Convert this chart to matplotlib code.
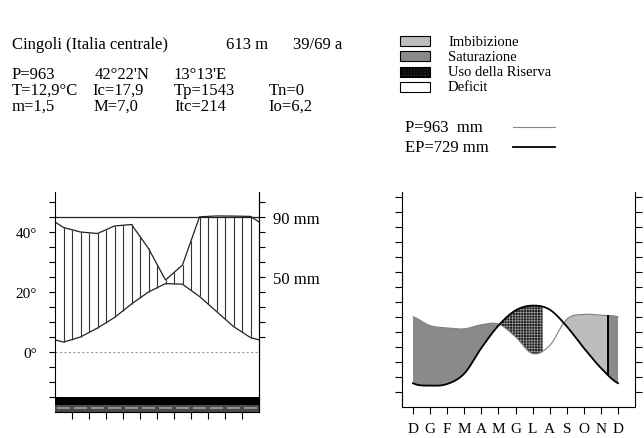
import matplotlib
matplotlib.use('Agg')
import matplotlib.pyplot as plt
import numpy as np
from matplotlib.patches import Rectangle
from matplotlib.lines import Line2D

plt.rcParams['font.family'] = ['Liberation Serif', 'DejaVu Serif']
plt.rcParams['hatch.linewidth'] = 0.5

# monthly data, January .. December
months = ['G', 'F', 'M', 'A', 'M', 'G', 'L', 'A', 'S', 'O', 'N', 'D']
temp = [3.3, 5.0, 8.0, 11.5, 16.0, 20.0, 22.8, 22.6, 18.5, 13.5, 8.5, 4.8]
precip = [83, 80, 79, 84, 85, 69, 48, 58, 91, 97, 96, 94]
evapo = [8, 10, 23, 55, 83, 102, 108, 103, 82, 55, 30, 11]

# water balance: month positions (0 = December)
reserve_empty = 7.6
reserve_full = 11.4

header = [
    ('Cingoli (Italia centrale)', 12, 45), ('613 m', 226, 45), ('39/69 a', 293, 45),
    ('P=963', 12, 75), ("42°22'N", 95, 75), ("13°13'E", 173, 75),
    ('T=12,9°C', 12, 91), ('Ic=17,9', 92, 91), ('Tp=1543', 174, 91), ('Tn=0', 269, 91),
    ('m=1,5', 12, 107), ('M=7,0', 94, 107), ('Itc=214', 174, 107), ('Io=6,2', 268, 107),
]
legend_items = ['Imbibizione', 'Saturazione', 'Uso della Riserva', 'Deficit']

C_IMB = '#bdbdbd'
C_SAT = '#8a8a8a'
C_USO = '#1c1c1c'

W, H = 644, 439
fig = plt.figure(figsize=(W / 100, H / 100), dpi=100)


def fx(x):
    return x / W


def fy(y):
    return 1 - y / H


def smooth(values, xs):
    """Periodic Catmull-Rom curve; x=0 is December, x=12 December again."""
    v = np.asarray(values, float)
    seq = np.concatenate([v[10:], v, v[:1]])   # Nov, Dec, Jan..Dec, Jan
    i = np.clip(np.floor(xs).astype(int), 0, 11)
    t = xs - i
    p0, p1, p2, p3 = seq[i], seq[i + 1], seq[i + 2], seq[i + 3]
    return 0.5 * (2 * p1 + (-p0 + p2) * t
                  + (2 * p0 - 5 * p1 + 4 * p2 - p3) * t ** 2
                  + (-p0 + 3 * p1 - 3 * p2 + p3) * t ** 3)


# ---------------- header text ----------------
for txt, x, y in header:
    fig.text(fx(x), fy(y), txt, fontsize=12, va='center', ha='left')

# ---------------- legend ----------------
for k, name in enumerate(legend_items):
    y0 = 37 + 15.3 * k
    face = [C_IMB, C_SAT, C_USO, 'white'][k]
    r = Rectangle((fx(400), fy(y0 + 10)), 30 / W, 10 / H, transform=fig.transFigure,
                  facecolor=face, edgecolor='black', lw=0.8,
                  hatch='++++++' if k == 2 else None)
    fig.add_artist(r)
    fig.text(fx(448), fy(y0 + 5), name, fontsize=10.5, va='center', ha='left')

fig.text(fx(405), fy(128), 'P=963  mm', fontsize=12, va='center')
fig.text(fx(405), fy(148), 'EP=729 mm', fontsize=12, va='center')
fig.add_artist(Line2D([fx(513), fx(555)], [fy(128), fy(128)], transform=fig.transFigure,
                      color='#888888', lw=0.8))
fig.add_artist(Line2D([fx(513), fx(555)], [fy(148), fy(148)], transform=fig.transFigure,
                      color='black', lw=1.3))

# ---------------- ombrothermic diagram ----------------
ax = fig.add_axes([fx(55), fy(413), 204 / W, 220 / H])
ax.set_xlim(0, 12)
ax.set_ylim(-20, 53.33)

# months at interval midpoints, wrapped one month on each side
xm = np.arange(-0.5, 13, 1.0)
t_ext = np.array([temp[-1]] + temp + [temp[0]])
p_arr = np.array([precip[-1]] + precip + [precip[0]], float)
p_plot = np.where(p_arr <= 90, p_arr, 90 + (p_arr - 90) / 10) / 2

ax.plot(xm, t_ext, color='#222222', lw=0.9)
ax.plot(xm, p_plot, color='#222222', lw=0.9)
xh = np.arange(0.5, 12, 0.5)
ax.vlines(xh, np.interp(xh, xm, t_ext), np.interp(xh, xm, p_plot),
          color='#333333', lw=0.8)
ax.axhline(45, color='#222222', lw=0.9)
ax.axhline(0, color='#999999', lw=0.8, ls=(0, (2, 2)))

ax.add_patch(Rectangle((0, -17.6), 12, 2.6, color='black', lw=0))
ax.add_patch(Rectangle((0, -20), 12, 2.4, color='#4a4a4a', lw=0))
for k in range(12):
    ax.plot([k + 0.12, k + 0.88], [-18.7, -18.7], color='#a0a0a0', lw=1.2,
            solid_capstyle='butt')

ax.spines['top'].set_visible(False)
ax.spines['left'].set_bounds(-15, 53.33)
ax.set_xticks(np.arange(1, 12))
ax.set_xticklabels([])
ax.tick_params(axis='x', direction='out', length=5, width=0.8)
yt = np.arange(-15, 51, 5)
ax.set_yticks(yt)
ax.set_yticklabels([f'{v}°' if v in (0, 20, 40) else '' for v in yt], fontsize=11)
ax.tick_params(axis='y', direction='out', length=4, width=0.8, pad=9)

axr = ax.twinx()
axr.set_ylim(ax.get_ylim())
for s in ['top', 'left', 'bottom']:
    axr.spines[s].set_visible(False)
yr = np.arange(5, 51, 5)
axr.set_yticks(yr)
axr.set_yticklabels([f'{2 * v} mm' if v in (25, 45) else '' for v in yr], fontsize=12)
axr.tick_params(axis='y', direction='out', length=4, width=0.8, pad=6)

# ---------------- water balance ----------------
bx = fig.add_axes([fx(402), fy(408), 233 / W, 215 / H])
bx.set_xlim(-0.644, 12.995)
bx.set_ylim(-18.75, 250)
xs = np.linspace(0, 12, 2401)
ps = smooth(precip, xs)
es = smooth(evapo, xs)
wet = ps >= es

bx.fill_between(xs, es, ps, where=wet & ((xs <= reserve_empty) | (xs >= reserve_full)),
                facecolor=C_SAT, lw=0, interpolate=True)
bx.fill_between(xs, es, ps, where=wet & (xs > reserve_empty) & (xs < reserve_full),
                facecolor=C_IMB, lw=0, interpolate=True)
bx.fill_between(xs, ps, es, where=~wet & (xs <= reserve_empty),
                facecolor=C_USO, edgecolor='#9a9a9a', hatch='++++++', lw=0,
                interpolate=True)
bx.fill_between(xs, ps, es, where=~wet & (xs > reserve_empty),
                facecolor='white', lw=0, interpolate=True)
bx.plot(xs, ps, color='#808080', lw=0.8)
bx.plot(xs, es, color='black', lw=1.3)
bx.vlines(reserve_full, np.interp(reserve_full, xs, es), np.interp(reserve_full, xs, ps),
          color='black', lw=1.4)

bx.spines['top'].set_visible(False)
bx.set_xticks(np.arange(13))
bx.set_xticklabels(['D'] + months, fontsize=11)
bx.tick_params(axis='x', direction='out', length=5, width=0.8, pad=6)
bx.set_yticks(np.arange(0, 250, 18.75))
bx.set_yticklabels([])
bx.tick_params(axis='y', which='both', direction='out', length=5, width=0.8,
               left=True, right=True)

fig.savefig('out.png', dpi=100, facecolor='white')
